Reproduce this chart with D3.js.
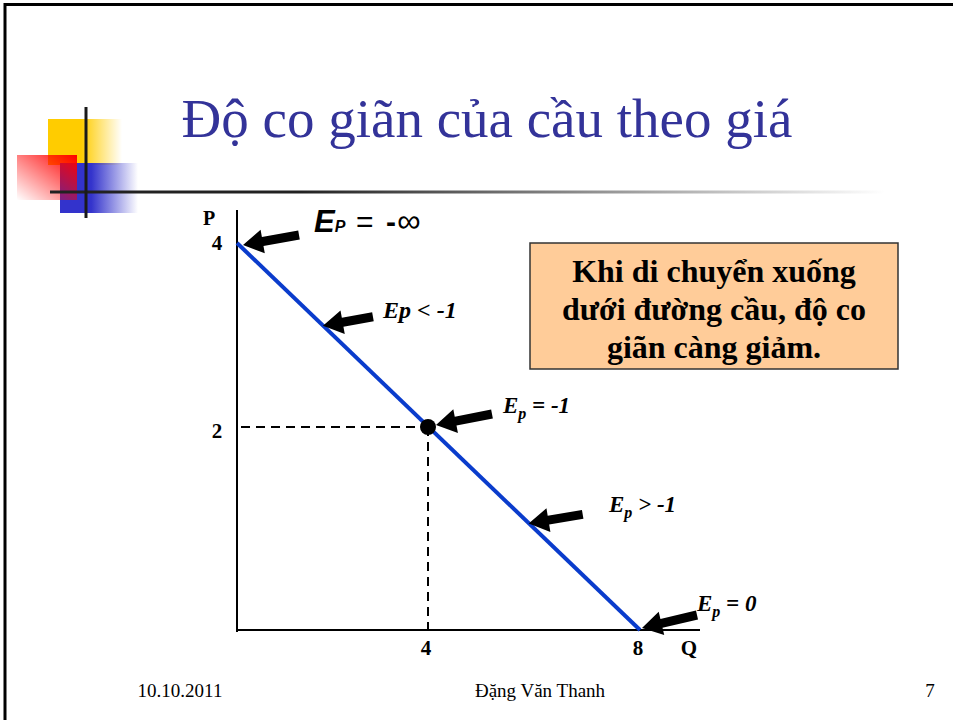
<!DOCTYPE html>
<html>
<head>
<meta charset="utf-8">
<script src="https://cdn.jsdelivr.net/npm/d3@7"></script>
<style>
  body { margin: 0; background: #fff; }
  svg { display: block; }
  text { font-family: "Liberation Serif", "Times New Roman", serif; }
  .bold { font-weight: bold; }
  .ital { font-weight: bold; font-style: italic; }
</style>
</head>
<body>
<svg id="slide"></svg>
<script>
// demand curve P = 4 - Q/2
var demandQ = [0, 8];
var demandP = [4, 0];
var unitPoint = {q: 4, p: 2};
var xTicks = [4, 8];
var yTicks = [2, 4];
var titleText = 'Độ co giãn của cầu theo giá';
var boxLines = ['Khi di chuyển xuống', 'dưới đường cầu, độ co', 'giãn càng giảm.'];
var footer = ['10.10.2011', 'Đặng Văn Thanh', '7'];
// elasticity labels: where the arrow points on the curve (q, p)
var arrowQ = [0, 1.8, 4, 5.9, 8];
var arrowP = [4, 3.1, 2, 1.05, 0];

var width = 953;
var height = 720;

var svg = d3.select('#slide')
  .attr('width', width)
  .attr('height', height);

var defs = svg.append('defs');

function hGrad(id, color, from, to) {
  var g = defs.append('linearGradient').attr('id', id)
    .attr('x1', '0').attr('y1', '0').attr('x2', '1').attr('y2', '0');
  g.append('stop').attr('offset', from).attr('stop-color', color).attr('stop-opacity', 1);
  g.append('stop').attr('offset', to).attr('stop-color', color).attr('stop-opacity', 0);
}
hGrad('gYellow', '#ffcc00', '0.45', '1');
hGrad('gBlue', '#3333cc', '0.4', '1');
hGrad('gLine', '#222222', '0.3', '1');
var rg = defs.append('linearGradient').attr('id', 'gRed')
  .attr('x1', '1').attr('y1', '0').attr('x2', '0').attr('y2', '1');
rg.append('stop').attr('offset', '0').attr('stop-color', '#ff0000').attr('stop-opacity', 1);
rg.append('stop').attr('offset', '1').attr('stop-color', '#ff0000').attr('stop-opacity', 0);

// slide frame
svg.append('line').attr('x1', 4).attr('y1', 4.5).attr('x2', width).attr('y2', 4.5)
  .style('stroke', '#000').style('stroke-width', 3);
svg.append('line').attr('x1', 5).attr('y1', 3).attr('x2', 5).attr('y2', height)
  .style('stroke', '#000').style('stroke-width', 3);

// logo decoration
var logo = svg.append('g');
logo.append('rect').attr('x', 48).attr('y', 119).attr('width', 74).attr('height', 46)
  .style('fill', 'url(#gYellow)');
logo.append('rect').attr('x', 60).attr('y', 163).attr('width', 78).attr('height', 50)
  .style('fill', 'url(#gBlue)');
logo.append('rect').attr('x', 17).attr('y', 155).attr('width', 60).attr('height', 45)
  .style('fill', 'url(#gRed)');
logo.append('rect').attr('x', 50).attr('y', 190.5).attr('width', 835).attr('height', 3)
  .style('fill', 'url(#gLine)');
logo.append('line').attr('x1', 86).attr('y1', 107).attr('x2', 86).attr('y2', 218)
  .style('stroke', '#1a1a1a').style('stroke-width', 3);

// title
svg.append('text')
  .attr('x', 487).attr('y', 137)
  .attr('text-anchor', 'middle')
  .style('font-size', '55px')
  .style('fill', '#333399')
  .text(titleText);

// scales (slide drawing is not perfectly proportional)
var x = d3.scaleLinear().domain([0, 4, 8]).range([237, 428, 640]);
var y = d3.scaleLinear().domain([0, 2, 4]).range([630, 427, 243]);

// axes
svg.append('line').attr('x1', x(0)).attr('y1', 210).attr('x2', x(0)).attr('y2', y(0) + 2)
  .style('stroke', '#000').style('stroke-width', 2);
svg.append('line').attr('x1', x(0) - 1).attr('y1', y(0)).attr('x2', 700).attr('y2', y(0))
  .style('stroke', '#000').style('stroke-width', 2);

// tick labels
svg.selectAll('text.xtick').data(xTicks).enter().append('text')
  .attr('class', 'xtick bold')
  .attr('x', function(d) { return x(d) - 2; })
  .attr('y', 655)
  .attr('text-anchor', 'middle')
  .style('font-size', '21px')
  .text(function(d) { return d; });
svg.selectAll('text.ytick').data(yTicks).enter().append('text')
  .attr('class', 'ytick bold')
  .attr('x', 217)
  .attr('y', function(d) { return y(d) + (d === 2 ? 11 : 7); })
  .attr('text-anchor', 'middle')
  .style('font-size', '21px')
  .text(function(d) { return d; });
svg.append('text').attr('class', 'bold').attr('x', 209).attr('y', 225).attr('text-anchor', 'middle')
  .style('font-size', '20px').text('P');
svg.append('text').attr('class', 'bold').attr('x', 689).attr('y', 655).attr('text-anchor', 'middle')
  .style('font-size', '21px').text('Q');

// dashed guides to unit-elastic point
svg.append('line')
  .attr('x1', x(0) + 4).attr('y1', y(unitPoint.p))
  .attr('x2', x(unitPoint.q)).attr('y2', y(unitPoint.p))
  .style('stroke', '#000').style('stroke-width', 2).style('stroke-dasharray', '9,6');
svg.append('line')
  .attr('x1', x(unitPoint.q)).attr('y1', y(unitPoint.p))
  .attr('x2', x(unitPoint.q)).attr('y2', y(0))
  .style('stroke', '#000').style('stroke-width', 2).style('stroke-dasharray', '9,6');

// demand line
var demand = demandQ.map(function(q, i) { return [q, demandP[i]]; });
svg.append('path')
  .datum(demand)
  .attr('d', d3.line().x(function(d) { return x(d[0]); }).y(function(d) { return y(d[1]); }))
  .style('fill', 'none').style('stroke', '#0a3ccc').style('stroke-width', 4);

svg.append('circle')
  .attr('cx', x(unitPoint.q)).attr('cy', y(unitPoint.p)).attr('r', 8)
  .style('fill', '#000');

// arrows
var tailOffset = [[56, -10], [50, -9], [56, -11], [54, -9], [55, -13]];
var tipGap = [[6, 2], [0, 0], [8, -2], [0, 0], [2, -2]];
function arrowPoints(tx, ty, sx, sy) {
  var dx = sx - tx, dy = sy - ty;
  var len = Math.sqrt(dx * dx + dy * dy);
  var ux = dx / len, uy = dy / len;
  var nx = -uy, ny = ux;
  var hl = 20, hw = 12, sw = 4.5;
  var bx = tx + ux * hl, by = ty + uy * hl;
  return [
    [tx, ty],
    [bx + nx * hw, by + ny * hw],
    [bx + nx * sw, by + ny * sw],
    [sx + nx * sw, sy + ny * sw],
    [sx - nx * sw, sy - ny * sw],
    [bx - nx * sw, by - ny * sw],
    [bx - nx * hw, by - ny * hw]
  ].map(function(p) { return p.join(','); }).join(' ');
}
svg.selectAll('polygon.arrow').data(arrowQ).enter().append('polygon')
  .classed('arrow', true)
  .attr('points', function(d, i) {
    var tx = x(d) + tipGap[i][0], ty = y(arrowP[i]) + tipGap[i][1];
    return arrowPoints(tx, ty, tx + tailOffset[i][0], ty + tailOffset[i][1]);
  })
  .style('fill', '#000');

// elasticity labels
var ep0 = svg.append('text').attr('y', 232)
  .style('font-family', '"Liberation Sans", Arial, sans-serif');
ep0.append('tspan').attr('x', 314).style('font-size', '31px').style('font-weight', 'bold').style('font-style', 'italic').text('E');
ep0.append('tspan').style('font-size', '16px').style('font-weight', 'bold').style('font-style', 'italic').text('P');
ep0.append('tspan').attr('x', 356).style('font-size', '30px').attr('textLength', 29).text('=');
ep0.append('tspan').attr('x', 386).style('font-size', '30px').style('font-weight', 'bold').text('-');
ep0.append('tspan').attr('x', 397).style('font-size', '33px').text('∞');

svg.append('text').attr('class', 'ital').attr('x', 383).attr('y', 318)
  .style('font-size', '24px')
  .text('Ep < -1');

function subLabel(lx, ly, rest) {
  var t = svg.append('text').attr('class', 'ital').attr('x', lx).attr('y', ly)
    .style('font-size', '23px');
  t.append('tspan').text('E');
  t.append('tspan').attr('dy', 6).style('font-size', '16px').text('p');
  t.append('tspan').attr('dy', -6).text(rest);
}
subLabel(503, 413, ' = -1');
subLabel(609, 512, ' > -1');
subLabel(697, 611, ' = 0');

// note box
svg.append('rect')
  .attr('x', 530).attr('y', 243).attr('width', 368).attr('height', 126)
  .style('fill', '#ffcc99').style('stroke', '#333').style('stroke-width', 1.5);
svg.selectAll('text.note').data(boxLines).enter().append('text')
  .attr('class', 'note bold')
  .attr('x', 714)
  .attr('y', function(d, i) { return 282 + i * 38; })
  .attr('text-anchor', 'middle')
  .style('font-size', '32px')
  .text(function(d) { return d; });

// footer
var footerX = [180, 540, 930];
svg.selectAll('text.footer').data(footer).enter().append('text')
  .classed('footer', true)
  .attr('x', function(d, i) { return footerX[i]; })
  .attr('y', 697)
  .attr('text-anchor', 'middle')
  .style('font-size', '19px')
  .text(function(d) { return d; });
</script>
</body>
</html>
